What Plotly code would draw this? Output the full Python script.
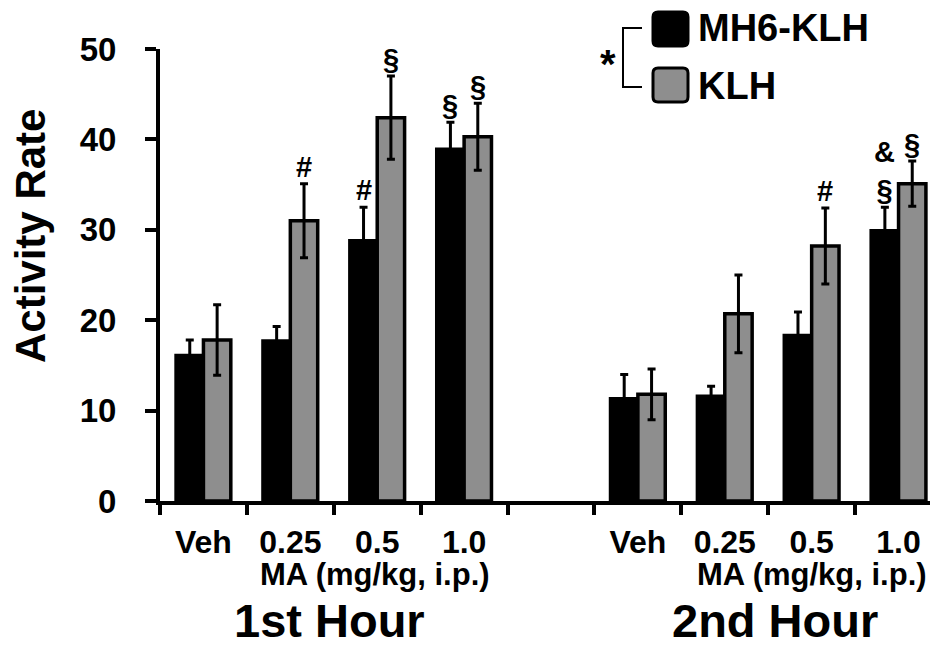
import plotly.graph_objects as go

# ---------------- data ----------------
categories = ["Veh", "0.25", "0.5", "1.0", "Veh", "0.25", "0.5", "1.0"]
positions = [0, 1, 2, 3, 5, 6, 7, 8]          # slot index (slot 4 is the gap between hours)
mh6_klh = [16.1, 17.7, 28.8, 38.9, 11.3, 11.6, 18.3, 29.9]
mh6_klh_err = [1.7, 1.6, 3.7, 3.0, 2.7, 1.1, 2.6, 2.6]
klh = [17.8, 31.0, 42.4, 40.3, 11.8, 20.7, 28.2, 35.1]
klh_err = [3.9, 4.1, 4.6, 3.7, 2.8, 4.3, 4.2, 2.5]
y_ticks = [0, 10, 20, 30, 40, 50]
hour_labels = ["1st Hour", "2nd Hour"]
dose_label = "MA (mg/kg, i.p.)"
# significance marks: (index into categories, series, text)
marks = [
    (1, "klh", "#"), (2, "mh6", "#"), (2, "klh", "§"), (3, "mh6", "§"), (3, "klh", "§"),
    (6, "klh", "#"), (7, "mh6", "&<br>§"), (7, "klh", "§"),
]

FONT = "Liberation Sans, Arial, sans-serif"
GRAY = "#8e8e8e"
# page offset of the plot div (default body margin)
OFF = 8
W, H = 938 - OFF, 648 - OFF
# plot area in page pixels
PL, PR, PT, PB = 160, 938, 49, 501
L, R, T, B = PL - OFF, 0, PT - OFF, (H + OFF) - PB
BARGAP = 0.37
half = (1 - BARGAP) / 4.0  # offset of each bar centre from slot centre

def px_x(p):
    return (p - PL) / (PR - PL)

def px_y(p):
    return (PB - p) / (PB - PT)

def rounded_rect(x0, y0, x1, y1, r):
    pts = [
        f"M {px_x(x0 + r)},{px_y(y0)}",
        f"L {px_x(x1 - r)},{px_y(y0)}",
        f"Q {px_x(x1)},{px_y(y0)} {px_x(x1)},{px_y(y0 + r)}",
        f"L {px_x(x1)},{px_y(y1 - r)}",
        f"Q {px_x(x1)},{px_y(y1)} {px_x(x1 - r)},{px_y(y1)}",
        f"L {px_x(x0 + r)},{px_y(y1)}",
        f"Q {px_x(x0)},{px_y(y1)} {px_x(x0)},{px_y(y1 - r)}",
        f"L {px_x(x0)},{px_y(y0 + r)}",
        f"Q {px_x(x0)},{px_y(y0)} {px_x(x0 + r)},{px_y(y0)} Z",
    ]
    return " ".join(pts)

fig = go.Figure()
fig.add_trace(go.Bar(
    x=positions, y=mh6_klh, name="MH6-KLH",
    marker=dict(color="black", line=dict(color="black", width=3.5)),
    error_y=dict(type="data", array=mh6_klh_err, color="black", thickness=3, width=4),
    showlegend=False,
))
fig.add_trace(go.Bar(
    x=positions, y=klh, name="KLH",
    marker=dict(color=GRAY, line=dict(color="black", width=3.5)),
    error_y=dict(type="data", array=klh_err, color="black", thickness=3, width=4),
    showlegend=False,
))

annotations = []
# significance marks
for idx, series, txt in marks:
    if series == "mh6":
        xv = positions[idx] - half
        yv = mh6_klh[idx] + mh6_klh_err[idx]
    else:
        xv = positions[idx] + half
        yv = klh[idx] + klh_err[idx]
    annotations.append(dict(x=xv, y=yv, xref="x", yref="y", text=txt, showarrow=False,
                            yanchor="bottom", yshift=-1,
                            font=dict(family=FONT, size=29, color="black", weight="bold")))

# dose axis labels and hour labels
for xc in (1.97, 7.0):
    annotations.append(dict(x=xc, y=px_y(574), xref="x", yref="paper", text=dose_label,
                            showarrow=False, yanchor="middle",
                            font=dict(family=FONT, size=31, color="black", weight="bold")))
for xc, lab in zip((1.45, 6.58), hour_labels):
    annotations.append(dict(x=xc, y=px_y(620), xref="x", yref="paper", text=lab,
                            showarrow=False, yanchor="middle",
                            font=dict(family=FONT, size=47, color="black", weight="bold")))

# y title
annotations.append(dict(x=px_x(30), y=px_y(236), xref="paper", yref="paper", text="Activity Rate",
                        textangle=-90, showarrow=False, xanchor="center", yanchor="middle",
                        font=dict(family=FONT, size=42, color="black", weight="bold")))

# custom legend
annotations.append(dict(x=px_x(696), y=px_y(28), xref="paper", yref="paper", text="MH6-KLH",
                        showarrow=False, xanchor="left", yanchor="middle",
                        font=dict(family=FONT, size=38, color="black", weight="bold")))
annotations.append(dict(x=px_x(696), y=px_y(86), xref="paper", yref="paper", text="KLH",
                        showarrow=False, xanchor="left", yanchor="middle",
                        font=dict(family=FONT, size=38, color="black", weight="bold")))
annotations.append(dict(x=px_x(608), y=px_y(64), xref="paper", yref="paper", text="*",
                        showarrow=False, xanchor="center", yanchor="middle",
                        font=dict(family=FONT, size=40, color="black", weight="bold")))

shapes = [
    dict(type="path", xref="paper", yref="paper", path=rounded_rect(653, 12, 688, 46, 5),
         fillcolor="black", line=dict(color="black", width=3)),
    dict(type="path", xref="paper", yref="paper", path=rounded_rect(653, 68, 688, 102, 5),
         fillcolor=GRAY, line=dict(color="black", width=3)),
    dict(type="path", xref="paper", yref="paper",
         path=f"M {px_x(642)},{px_y(28)} L {px_x(623)},{px_y(28)} L {px_x(623)},{px_y(87)} L {px_x(642)},{px_y(87)}",
         line=dict(color="black", width=2)),
]

boundaries = [p - 0.5 for p in range(10)]

fig.update_layout(
    width=W, height=H,
    margin=dict(l=L, r=R, t=T, b=B),
    paper_bgcolor="white", plot_bgcolor="white",
    barmode="group", bargap=BARGAP, bargroupgap=0,
    annotations=annotations, shapes=shapes,
    xaxis=dict(
        range=[-0.5, 8.454], tickmode="array", tickvals=positions, ticktext=categories,
        ticks="outside", ticklen=10, tickcolor="rgba(0,0,0,0)",
        tickfont=dict(family=FONT, size=32, color="black", weight="bold"),
        showline=True, linecolor="black", linewidth=4, showgrid=False, zeroline=False,
        minor=dict(tickmode="array", tickvals=boundaries, ticks="outside", ticklen=10,
                   tickwidth=4, tickcolor="black", showgrid=False),
    ),
    yaxis=dict(
        range=[0, 50], tickmode="array", tickvals=y_ticks,
        ticks="outside", ticklen=11, tickwidth=4, tickcolor="black",
        tickfont=dict(family=FONT, size=33, color="black", weight="bold"),
        showline=True, linecolor="black", linewidth=4, showgrid=False, zeroline=False,
        ticklabelstandoff=22,
    ),
)

fig.write_html("out.html")
